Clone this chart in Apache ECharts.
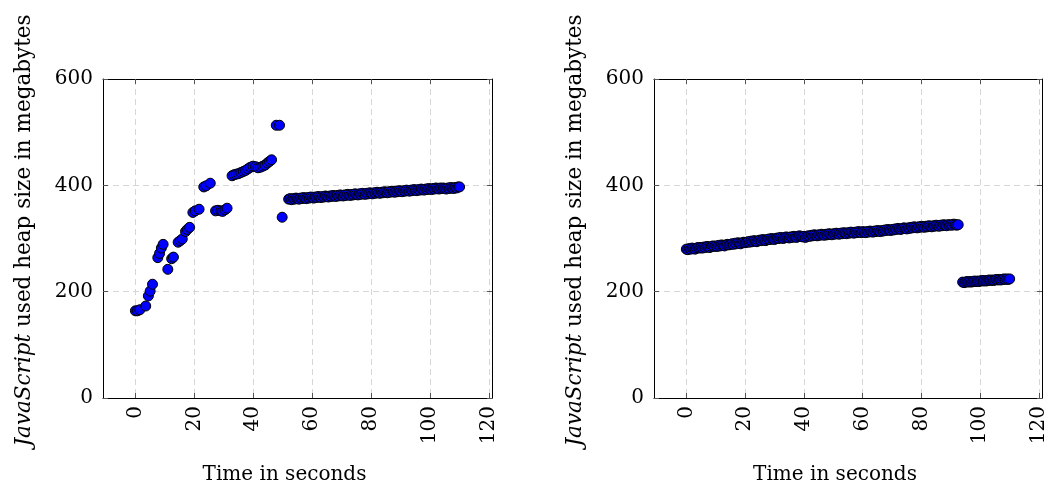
<!DOCTYPE html>
<html>
<head>
<meta charset="utf-8">
<script src="https://cdn.jsdelivr.net/npm/echarts@6/dist/echarts.min.js"></script>
<style>html,body{margin:0;padding:0;background:#fff}#c{width:1050px;height:492px}</style>
</head>
<body>
<div id="c"></div>
<script>
// ---- data ----
const xTicks = [0, 20, 40, 60, 80, 100, 120];
const yTicks = [0, 200, 400, 600];
const xTitle = 'Time in seconds';
const yTitle = '{it|JavaScript} used heap size in megabytes';

// Left panel: early samples (irregular)
const leftEarlyTimes = [0, 0.7, 1.5, 3.5, 4.4, 5.0, 5.8, 7.6, 8.2, 8.8, 9.4, 11.0, 12.3, 12.9, 14.5, 15.2, 15.9, 17.0, 17.6, 18.4,
  19.5, 20.3, 21.6, 23.2, 24.0, 25.4, 27.2, 28.0, 29.0, 29.6, 30.4, 31.1, 32.8, 33.5, 34.2, 35.0, 35.8, 36.6, 37.4, 38.2,
  39.0, 39.9, 40.8, 41.6, 42.4, 43.2, 44.0, 44.8, 45.5, 46.2, 47.8, 48.9, 49.8];
const leftEarlyValues = [164, 164, 166, 173, 192, 201, 214, 264, 272, 282, 289, 242, 262, 265, 293, 296, 299, 313, 317, 321,
  349, 352, 355, 397, 399, 404, 352, 353, 352, 351, 354, 357, 418, 420, 421, 422, 424, 426, 428, 431,
  434, 436, 435, 433, 434, 436, 438, 442, 445, 448, 513, 513, 340];

// Left panel: steady band
const leftBandTimes = [52, 52.5, 53, 53.5, 54, 54.5, 55, 55.5, 56, 56.5, 57, 57.5, 58, 58.5, 59, 59.5,
  60, 60.5, 61, 61.5, 62, 62.5, 63, 63.5, 64, 64.5, 65, 65.5, 66, 66.5, 67, 67.5, 68, 68.5, 69, 69.5,
  70, 70.5, 71, 71.5, 72, 72.5, 73, 73.5, 74, 74.5, 75, 75.5, 76, 76.5, 77, 77.5, 78, 78.5, 79, 79.5,
  80, 80.5, 81, 81.5, 82, 82.5, 83, 83.5, 84, 84.5, 85, 85.5, 86, 86.5, 87, 87.5, 88, 88.5, 89, 89.5,
  90, 90.5, 91, 91.5, 92, 92.5, 93, 93.5, 94, 94.5, 95, 95.5, 96, 96.5, 97, 97.5, 98, 98.5, 99, 99.5,
  100, 100.5, 101, 101.5, 102, 102.5, 103, 103.5, 104, 104.5, 105, 105.5, 106, 106.5, 107, 107.5, 108, 108.5, 109, 109.5, 110];
const leftBandValues = [374, 375, 373, 375, 374, 376, 375, 374, 376, 375, 377, 376, 375, 377, 376, 378,
  377, 376, 378, 377, 379, 378, 377, 379, 378, 380, 379, 378, 380, 379, 381, 380, 379, 381, 380, 382,
  381, 380, 382, 381, 383, 382, 381, 383, 382, 384, 383, 382, 384, 383, 385, 384, 383, 385, 384, 386,
  385, 384, 386, 385, 387, 386, 385, 387, 386, 388, 387, 386, 388, 387, 389, 388, 387, 389, 388, 390,
  389, 388, 390, 389, 391, 390, 389, 391, 390, 392, 391, 390, 392, 391, 393, 392, 391, 393, 392, 394,
  393, 392, 394, 393, 395, 394, 393, 395, 394, 395, 394, 393, 395, 394, 396, 395, 394, 396, 395, 397, 397];

// Right panel: first band
const rightBand1Times = [0, 0.5, 1, 1.5, 2, 2.5, 3, 3.5, 4, 4.5, 5, 5.5, 6, 6.5, 7, 7.5, 8, 8.5, 9, 9.5,
  10, 10.5, 11, 11.5, 12, 12.5, 13, 13.5, 14, 14.5, 15, 15.5, 16, 16.5, 17, 17.5, 18, 18.5, 19, 19.5,
  20, 20.5, 21, 21.5, 22, 22.5, 23, 23.5, 24, 24.5, 25, 25.5, 26, 26.5, 27, 27.5, 28, 28.5, 29, 29.5,
  30, 30.5, 31, 31.5, 32, 32.5, 33, 33.5, 34, 34.5, 35, 35.5, 36, 36.5, 37, 37.5, 38, 38.5, 39, 39.5,
  40, 40.5, 41, 41.5, 42, 42.5, 43, 43.5, 44, 44.5, 45, 45.5, 46, 46.5, 47, 47.5, 48, 48.5, 49, 49.5,
  50, 50.5, 51, 51.5, 52, 52.5, 53, 53.5, 54, 54.5, 55, 55.5, 56, 56.5, 57, 57.5, 58, 58.5, 59, 59.5,
  60, 60.5, 61, 61.5, 62, 62.5, 63, 63.5, 64, 64.5, 65, 65.5, 66, 66.5, 67, 67.5, 68, 68.5, 69, 69.5,
  70, 70.5, 71, 71.5, 72, 72.5, 73, 73.5, 74, 74.5, 75, 75.5, 76, 76.5, 77, 77.5, 78, 78.5, 79, 79.5,
  80, 80.5, 81, 81.5, 82, 82.5, 83, 83.5, 84, 84.5, 85, 85.5, 86, 86.5, 87, 87.5, 88, 88.5, 89, 89.5,
  90, 90.5, 91, 91.5, 92, 92.5];
const rightBand1Values = [280, 279, 281, 280, 282, 281, 280, 282, 283, 282, 283, 282, 284, 283, 285, 284, 283, 285, 286, 285,
  286, 285, 287, 286, 288, 287, 286, 288, 289, 288, 289, 290, 289, 291, 290, 292, 291, 290, 292, 293,
  292, 293, 294, 293, 295, 294, 296, 295, 294, 296, 297, 296, 298, 297, 296, 298, 299, 298, 300, 299,
  298, 300, 301, 300, 302, 301, 300, 302, 303, 302, 301, 303, 302, 304, 303, 302, 304, 305, 304, 303,
  304, 302, 304, 305, 304, 306, 305, 307, 306, 305, 307, 306, 308, 307, 306, 308, 307, 309, 308, 307,
  309, 308, 310, 309, 308, 310, 309, 311, 310, 309, 311, 310, 312, 311, 310, 312, 311, 313, 312, 311,
  313, 312, 311, 313, 312, 314, 313, 312, 314, 313, 315, 314, 313, 315, 314, 316, 315, 317, 316, 315,
  317, 316, 318, 317, 319, 318, 317, 319, 320, 319, 318, 320, 319, 321, 320, 322, 321, 320, 322, 321,
  323, 322, 321, 323, 322, 324, 323, 322, 324, 323, 325, 324, 323, 325, 324, 326, 325, 324, 326, 325,
  326, 325, 327, 326, 325, 326];

// Right panel: second band (after the drop)
const rightBand2Times = [94, 94.5, 95, 95.5, 96, 96.5, 97, 97.5, 98, 98.5, 99, 99.5, 100, 100.5, 101, 101.5,
  102, 102.5, 103, 103.5, 104, 104.5, 105, 105.5, 106, 106.5, 107, 107.5, 108, 108.5, 109, 109.5, 110];
const rightBand2Values = [218, 217, 218, 219, 218, 219, 218, 219, 220, 219, 220, 219, 220, 221, 220, 221,
  220, 221, 222, 221, 222, 221, 222, 223, 222, 223, 222, 223, 224, 223, 224, 223, 224];

// ---- build chart ----
function pairs(ts, vs) { return ts.map((t, i) => [t, vs[i]]); }
const leftData = pairs(leftEarlyTimes, leftEarlyValues).concat(pairs(leftBandTimes, leftBandValues));
const rightData = pairs(rightBand1Times, rightBand1Values).concat(pairs(rightBand2Times, rightBand2Values));

const FONT = '"DejaVu Serif", serif';
const FS = 20;
const FS_TITLE_Y = 21.5;
const gridLine = { show: true, lineStyle: { color: '#d6d6d6', width: 1, type: [6, 4] } };

function mainX(i) {
  return {
    type: 'value', gridIndex: i, min: -11, max: 121, position: 'bottom',
    name: xTitle, nameLocation: 'middle', nameGap: 67,
    nameTextStyle: { fontFamily: FONT, fontSize: FS, color: '#000', padding: [0, 26, 0, 0] },
    axisLine: { show: true, onZero: false, lineStyle: { color: '#000', width: 1 } },
    axisTick: { show: true, inside: true, length: 5, customValues: xTicks, lineStyle: { color: '#555' } },
    axisLabel: { show: true, customValues: xTicks, rotate: 90, margin: 8, fontFamily: FONT, fontSize: FS, color: '#000' },
    splitLine: gridLine
  };
}
function topX(i) {
  return {
    type: 'value', gridIndex: i, min: -11, max: 121, position: 'top',
    axisLine: { show: true, onZero: false, lineStyle: { color: '#000', width: 1 } },
    axisTick: { show: true, inside: true, length: 5, customValues: xTicks, lineStyle: { color: '#555' } },
    axisLabel: { show: false }, splitLine: { show: false }
  };
}
function mainY(i) {
  return {
    type: 'value', gridIndex: i, min: 0, max: 600, interval: 200, position: 'left',
    name: yTitle, nameLocation: 'middle', nameGap: 68,
    nameTextStyle: { fontFamily: FONT, fontSize: FS_TITLE_Y, color: '#000', padding: [0, 0, 0, 16],
      rich: { it: { fontStyle: 'italic', fontFamily: FONT, fontSize: FS_TITLE_Y, color: '#000' } } },
    axisLine: { show: true, onZero: false, lineStyle: { color: '#000', width: 1 } },
    axisTick: { show: true, inside: true, length: 5, lineStyle: { color: '#555' } },
    axisLabel: { show: true, margin: 10, fontFamily: FONT, fontSize: FS, color: '#000',
      formatter: v => (yTicks.indexOf(v) >= 0 ? String(v) : '') },
    splitLine: gridLine
  };
}
function rightY(i) {
  return {
    type: 'value', gridIndex: i, min: 0, max: 600, interval: 200, position: 'right',
    axisLine: { show: true, onZero: false, lineStyle: { color: '#000', width: 1 } },
    axisTick: { show: true, inside: true, length: 5, lineStyle: { color: '#555' } },
    axisLabel: { show: false }, splitLine: { show: false }
  };
}

const chart = echarts.init(document.getElementById('c'), null, { renderer: 'canvas' });
const marker = { color: '#0000ff', borderColor: '#000', borderWidth: 1, opacity: 1 };
chart.setOption({
  animation: false,
  backgroundColor: '#fff',
  grid: [
    { left: 103, right: 558, top: 79, bottom: 94, outerBoundsMode: 'none' },
    { left: 654, right: 8, top: 79, bottom: 94, outerBoundsMode: 'none' }
  ],
  xAxis: [mainX(0), mainX(1), topX(0), topX(1)],
  yAxis: [mainY(0), mainY(1), rightY(0), rightY(1)],
  series: [
    { type: 'scatter', xAxisIndex: 0, yAxisIndex: 0, data: leftData, symbol: 'circle', symbolSize: 10, itemStyle: marker },
    { type: 'scatter', xAxisIndex: 1, yAxisIndex: 1, data: rightData, symbol: 'circle', symbolSize: 10, itemStyle: marker }
  ]
});
</script>
</body>
</html>
